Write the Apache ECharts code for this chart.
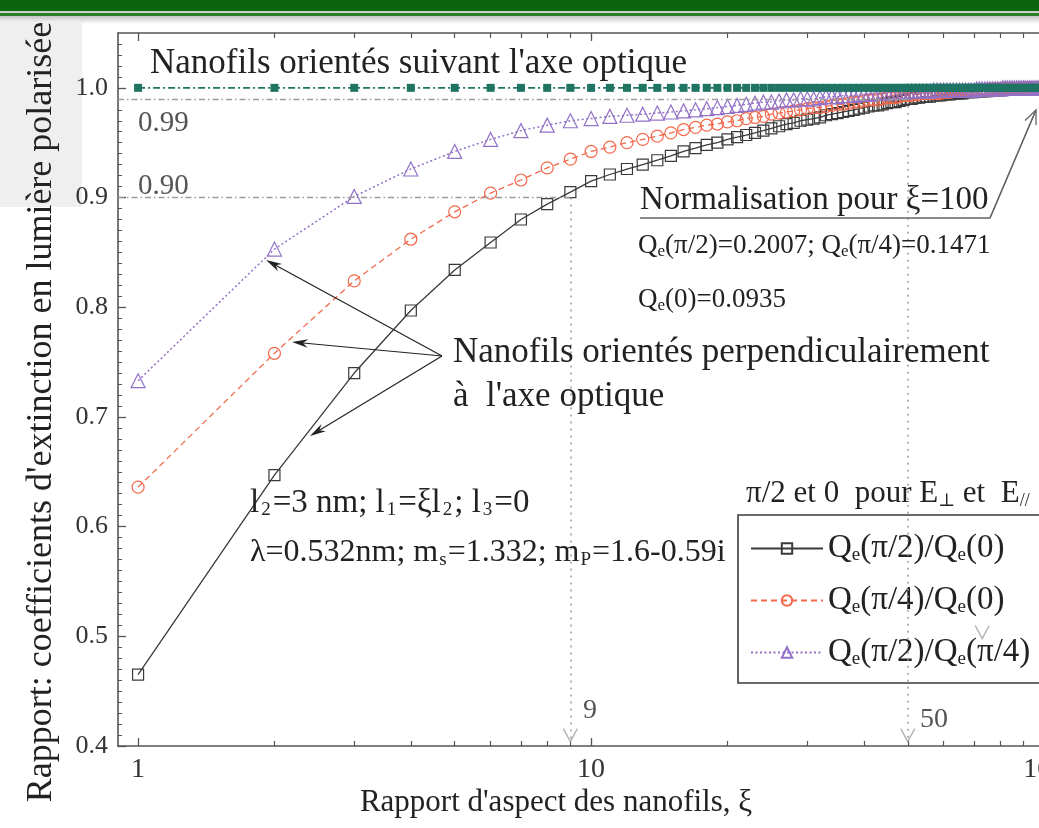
<!DOCTYPE html>
<html>
<head>
<meta charset="utf-8">
<script src="https://cdn.jsdelivr.net/npm/echarts@6/dist/echarts.min.js"></script>
<style>
  html, body { margin: 0; padding: 0; background: #fff; }
  #chart { width: 1039px; height: 828px; }
</style>
</head>
<body>
<div id="chart"></div>
<script>
// Aspect ratio of the nanowires (xi)
const xi = [
  1, 2, 3, 4, 5, 6, 7, 8, 9, 10,
  11, 12, 13, 14, 15, 16, 17, 18, 19, 20,
  21, 22, 23, 24, 25, 26, 27, 28, 29, 30,
  31, 32, 33, 34, 35, 36, 37, 38, 39, 40,
  41, 42, 43, 44, 45, 46, 47, 48, 49, 50,
  51, 52, 53, 54, 55, 56, 57, 58, 59, 60,
  61, 62, 63, 64, 65, 66, 67, 68, 69, 70,
  71, 72, 73, 74, 75, 76, 77, 78, 79, 80,
  81, 82, 83, 84, 85, 86, 87, 88, 89, 90,
  91, 92, 93, 94, 95, 96, 97, 98, 99, 100
];

// Qe(pi/2)/Qe(0)
const ratioPerp0 = [
  0.465, 0.647, 0.740, 0.797, 0.834, 0.859, 0.880, 0.894, 0.905, 0.915,
  0.921, 0.926, 0.930, 0.934, 0.938, 0.942, 0.945, 0.948, 0.950, 0.953,
  0.955, 0.957, 0.959, 0.961, 0.963, 0.965, 0.967, 0.968, 0.970, 0.971,
  0.972, 0.973, 0.975, 0.976, 0.977, 0.978, 0.979, 0.980, 0.981, 0.982,
  0.983, 0.984, 0.984, 0.985, 0.986, 0.987, 0.987, 0.988, 0.989, 0.990,
  0.990, 0.991, 0.991, 0.992, 0.992, 0.992, 0.993, 0.993, 0.993, 0.994,
  0.994, 0.994, 0.995, 0.995, 0.995, 0.995, 0.996, 0.996, 0.996, 0.996,
  0.997, 0.997, 0.997, 0.997, 0.997, 0.998, 0.998, 0.998, 0.998, 0.998,
  0.998, 0.999, 0.999, 0.999, 0.999, 0.999, 0.999, 0.999, 0.999, 1.000,
  1.000, 1.000, 1.000, 1.000, 1.000, 1.000, 1.000, 1.000, 1.000, 1.000
];

// Qe(pi/4)/Qe(0)
const ratioDiag0 = [
  0.636, 0.758, 0.824, 0.862, 0.887, 0.904, 0.916, 0.927, 0.935, 0.942,
  0.946, 0.950, 0.953, 0.956, 0.959, 0.962, 0.964, 0.966, 0.967, 0.969,
  0.970, 0.972, 0.973, 0.974, 0.976, 0.977, 0.978, 0.979, 0.980, 0.981,
  0.982, 0.982, 0.983, 0.984, 0.985, 0.985, 0.986, 0.987, 0.987, 0.988,
  0.989, 0.989, 0.989, 0.990, 0.991, 0.991, 0.991, 0.992, 0.993, 0.993,
  0.993, 0.994, 0.994, 0.995, 0.995, 0.995, 0.995, 0.995, 0.995, 0.996,
  0.996, 0.996, 0.997, 0.997, 0.997, 0.997, 0.997, 0.997, 0.997, 0.997,
  0.998, 0.998, 0.998, 0.998, 0.998, 0.999, 0.999, 0.999, 0.999, 0.999,
  0.999, 0.999, 0.999, 0.999, 0.999, 0.999, 0.999, 0.999, 0.999, 1.000,
  1.000, 1.000, 1.000, 1.000, 1.000, 1.000, 1.000, 1.000, 1.000, 1.000
];

// Qe(pi/2)/Qe(pi/4)
const ratioPerpDiag = [
  0.733, 0.853, 0.901, 0.926, 0.942, 0.953, 0.961, 0.966, 0.970, 0.972,
  0.974, 0.975, 0.976, 0.977, 0.978, 0.979, 0.980, 0.981, 0.982, 0.983,
  0.984, 0.985, 0.986, 0.987, 0.987, 0.988, 0.989, 0.989, 0.990, 0.990,
  0.990, 0.991, 0.992, 0.992, 0.992, 0.993, 0.993, 0.993, 0.994, 0.994,
  0.994, 0.995, 0.995, 0.995, 0.995, 0.996, 0.996, 0.996, 0.996, 0.997,
  0.997, 0.997, 0.997, 0.997, 0.997, 0.997, 0.998, 0.998, 0.998, 0.998,
  0.998, 0.998, 0.998, 0.998, 0.998, 0.998, 0.998, 0.998, 0.998, 0.998,
  0.999, 0.999, 0.999, 0.999, 0.999, 0.999, 0.999, 0.999, 0.999, 0.999,
  1.000, 1.000, 1.000, 1.000, 1.000, 1.000, 1.000, 1.000, 1.000, 1.000,
  1.000, 1.000, 1.000, 1.000, 1.000, 1.000, 1.000, 1.000, 1.000, 1.000
];

// Wires aligned with the optical axis
const ratioParallel = [
  1, 1, 1, 1, 1, 1, 1, 1, 1, 1,
  1, 1, 1, 1, 1, 1, 1, 1, 1, 1,
  1, 1, 1, 1, 1, 1, 1, 1, 1, 1,
  1, 1, 1, 1, 1, 1, 1, 1, 1, 1,
  1, 1, 1, 1, 1, 1, 1, 1, 1, 1,
  1, 1, 1, 1, 1, 1, 1, 1, 1, 1,
  1, 1, 1, 1, 1, 1, 1, 1, 1, 1,
  1, 1, 1, 1, 1, 1, 1, 1, 1, 1,
  1, 1, 1, 1, 1, 1, 1, 1, 1, 1,
  1, 1, 1, 1, 1, 1, 1, 1, 1, 1
];

const seriesNames = ['Qe(π/2)/Qe(0)', 'Qe(π/4)/Qe(0)', 'Qe(π/2)/Qe(π/4)'];
const xLabelTicks = [1, 10, 100];
const xMinorTicks = [2, 3, 4, 5, 6, 7, 8, 9, 20, 30, 40, 50, 60, 70, 80, 90];
const yLabelTicks = [0.4, 0.5, 0.6, 0.7, 0.8, 0.9, 1.0];

// y minor ticks every 0.01
const yMinorTicks = [];
for (let k = 41; k <= 104; k++) { if (k % 10 !== 0) yMinorTicks.push(k / 100); }

const SERIF = '"Liberation Serif", "DejaVu Serif", serif';
const INK = '#222';
const AXIS = '#555';
const GUIDE = '#9c9c9c';
const COL = { black: '#3a3a3a', orange: '#f3694b', purple: '#9271c6', teal: '#1f7464' };

const X_MIN = 0.903, X_MAX = 108.4;

const pairs = v => xi.map((x, i) => [x, v[i]]);

function richSet(size, subSize, drop, gap) {
  return {
    n: { fontFamily: SERIF, fontSize: size, color: INK },
    s: { fontFamily: SERIF, fontSize: subSize, color: INK, padding: [drop * 2, gap || 0, 0, gap || 0] }
  };
}

function qLabel(name) {
  // "Qe(...)" -> Q with subscript e
  return name.split('Qe').map((part, i) => (i === 0 ? (part ? '{n|' + part + '}' : '') : '{n|Q}{s|e}{n|' + part + '}')).join('');
}

function richText(x, y, str, rich) {
  return { type: 'text', x: x, y: y, z: 100,
    style: { text: str, rich: rich, fontFamily: SERIF, fill: INK, verticalAlign: 'middle', align: 'left' } };
}

function plainText(x, y, str, size, color, extra) {
  return Object.assign({ type: 'text', x: x, y: y, z: 100,
    style: { text: str, font: size + 'px ' + SERIF, fill: color || INK, verticalAlign: 'middle', align: 'left' } }, extra || {});
}

function arrowFilled(x1, y1, x2, y2) {
  const a = Math.atan2(y2 - y1, x2 - x1);
  const len = 16, half = 4.2, notch = 11;
  const c = Math.cos(a), s = Math.sin(a);
  const bx = x2 - len * c, by = y2 - len * s;
  const nx = x2 - notch * c, ny = y2 - notch * s;
  return [
    { type: 'line', z: 100, shape: { x1: x1, y1: y1, x2: nx, y2: ny }, style: { stroke: INK, lineWidth: 1.2 } },
    { type: 'polygon', z: 100, shape: { points: [[x2, y2], [bx - s * half, by + c * half], [nx, ny], [bx + s * half, by - c * half]] }, style: { fill: INK } }
  ];
}

function arrowOpen(x1, y1, x2, y2, color) {
  const a = Math.atan2(y2 - y1, x2 - x1);
  const len = 14, half = 6;
  const c = Math.cos(a), s = Math.sin(a);
  const bx = x2 - len * c, by = y2 - len * s;
  return [
    { type: 'line', z: 100, shape: { x1: x1, y1: y1, x2: x2, y2: y2 }, style: { stroke: color, lineWidth: 1.3 } },
    { type: 'polyline', z: 100, shape: { points: [[bx - s * half, by + c * half], [x2, y2], [bx + s * half, by - c * half]] }, style: { stroke: color, fill: null, lineWidth: 1.3 } }
  ];
}

const mid = richSet(33, 19, 7, 2);
const midTight = richSet(32, 19, 7, 1);
const corner = richSet(31, 18, 7, 0);
const small = richSet(27, 17, 6, 0);

const graphics = [
  // page header band
  { type: 'rect', z: -1, shape: { x: 0, y: 0, width: 1039, height: 11 }, style: { fill: '#0b650e' } },
  { type: 'rect', z: -1, shape: { x: 0, y: 11, width: 1039, height: 2 }, style: { fill: '#c9d6c9' } },
  { type: 'rect', z: -1, shape: { x: 0, y: 13, width: 1039, height: 3 }, style: { fill: '#2b7d2b' } },
  { type: 'rect', z: -1, shape: { x: 0, y: 16, width: 1039, height: 8 },
    style: { fill: new echarts.graphic.LinearGradient(0, 0, 0, 1, [{ offset: 0, color: '#c4c4c4' }, { offset: 1, color: '#ffffff' }]) } },
  { type: 'rect', z: -1, shape: { x: 0, y: 22, width: 82, height: 185 }, style: { fill: '#efefef' } },

  // axis titles
  plainText(42, 412, '', 36, INK,
    { rotation: Math.PI / 2, style: { text: 'Rapport: coefficients d\'extinction en lumière polarisée', font: '36px ' + SERIF, fill: INK, verticalAlign: 'middle', align: 'center' } }),
  plainText(556, 803, '', 31, INK,
    { style: { text: 'Rapport d\'aspect des nanofils, ξ', font: '31px ' + SERIF, fill: INK, verticalAlign: 'middle', align: 'center' } }),

  plainText(150, 64, 'Nanofils orientés suivant l\'axe optique', 35),
  plainText(138, 123, '0.99', 29, '#555'),
  plainText(138, 186, '0.90', 29, '#555'),
  plainText(583, 711, '9', 28, '#555'),
  plainText(920, 720, '50', 28, '#555'),

  plainText(640, 200, 'Normalisation pour ξ=100', 33),
  { type: 'polyline', z: 100, shape: { points: [[640, 218], [990, 218], [1036, 110]] }, style: { stroke: '#666', fill: null, lineWidth: 1.3 } },
  ...arrowOpen(990, 218, 1036, 110, '#666'),
  richText(638, 246, '{n|Q}{s|e}{n|(π/2)=0.2007; Q}{s|e}{n|(π/4)=0.1471}', small),
  richText(638, 300, '{n|Q}{s|e}{n|(0)=0.0935}', small),

  plainText(453, 353, 'Nanofils orientés perpendiculairement', 35),
  plainText(453, 397, 'à  l\'axe optique', 35),
  ...arrowFilled(442, 356, 266, 260),
  ...arrowFilled(442, 356, 292, 342),
  ...arrowFilled(442, 356, 310, 436),

  richText(250, 503, '{n|l}{s|2}{n|=3 nm; l}{s|1}{n|=ξl}{s|2}{n|; l}{s|3}{n|=0}', mid),
  richText(250, 553, '{n|λ=0.532nm; m}{s|s}{n|=1.332; m}{s|P}{n|=1.6-0.59i}', midTight),
  richText(746, 494, '{n|π/2 et 0  pour E}{s|⊥}{n| et  E}{s|//}', corner)
];

const chart = echarts.init(document.getElementById('chart'));

const option = {
  backgroundColor: '#fff',
  animation: false,
  grid: { left: 118, right: -21, top: 33, bottom: 82, containLabel: false, outerBoundsMode: 'none' },
  xAxis: [
    {
      type: 'log', min: X_MIN, max: X_MAX, position: 'bottom',
      axisLine: { show: true, lineStyle: { color: AXIS, width: 1.6 } },
      axisTick: { show: true, inside: true, length: 8, customValues: xLabelTicks, lineStyle: { color: AXIS, width: 1.3 } },
      axisLabel: { show: true, customValues: xLabelTicks, formatter: v => String(Math.round(v)), fontFamily: SERIF, fontSize: 28, color: '#333', margin: 10 },
      splitLine: { show: false }, minorTick: { show: false }
    },
    {
      type: 'log', min: X_MIN, max: X_MAX, position: 'bottom',
      axisLine: { show: false },
      axisTick: { show: true, inside: true, length: 5, customValues: xMinorTicks, lineStyle: { color: AXIS, width: 1.2 } },
      axisLabel: { show: false }, splitLine: { show: false }
    },
    {
      type: 'log', min: X_MIN, max: X_MAX, position: 'top',
      axisLine: { show: true, lineStyle: { color: AXIS, width: 1.6 } },
      axisTick: { show: true, inside: true, length: 8, customValues: xLabelTicks, lineStyle: { color: AXIS, width: 1.3 } },
      axisLabel: { show: false }, splitLine: { show: false }
    },
    {
      type: 'log', min: X_MIN, max: X_MAX, position: 'top',
      axisLine: { show: false },
      axisTick: { show: true, inside: true, length: 5, customValues: xMinorTicks, lineStyle: { color: AXIS, width: 1.2 } },
      axisLabel: { show: false }, splitLine: { show: false }
    }
  ],
  yAxis: [
    {
      type: 'value', min: 0.4, max: 1.05, interval: 0.1, position: 'left',
      axisLine: { show: true, lineStyle: { color: AXIS, width: 1.6 } },
      axisTick: { show: true, inside: true, length: 8, customValues: yLabelTicks, lineStyle: { color: AXIS, width: 1.3 } },
      axisLabel: { show: true, customValues: yLabelTicks, formatter: v => v.toFixed(1), fontFamily: SERIF, fontSize: 26, color: '#333', margin: 10 },
      splitLine: { show: false }
    },
    {
      type: 'value', min: 0.4, max: 1.05, position: 'left',
      axisLine: { show: false },
      axisTick: { show: true, inside: true, length: 4, customValues: yMinorTicks, lineStyle: { color: AXIS, width: 1 } },
      axisLabel: { show: false }, splitLine: { show: false }
    }
  ],
  legend: {
    orient: 'vertical', left: 738, top: 515,
    data: seriesNames, selectedMode: false,
    itemWidth: 72, itemHeight: 13, itemGap: 19,
    padding: [17, 60, 14, 12],
    borderColor: '#3a3a3a', borderWidth: 1.6, borderRadius: 0, backgroundColor: '#fff',
    formatter: qLabel,
    textStyle: { fontFamily: SERIF, fontSize: 33, color: INK, rich: richSet(33, 19, 7, 0) }
  },
  graphic: graphics,
  series: [
    {
      name: 'guides', type: 'line', data: [], silent: true, z: 1,
      markLine: {
        silent: true, symbol: ['none', 'none'], label: { show: false }, animation: false,
        data: [
          [{ coord: [X_MIN, 0.99], lineStyle: { type: [6, 3, 1.5, 3], color: GUIDE, width: 1.3 } }, { coord: [50, 0.99] }],
          [{ coord: [50, 0.99], lineStyle: { type: [2, 5], color: GUIDE, width: 1.5 } }, { coord: [50, 0.404] }],
          [{ coord: [X_MIN, 0.90], lineStyle: { type: [6, 3, 1.5, 3], color: GUIDE, width: 1.3 } }, { coord: [9, 0.90] }],
          [{ coord: [9, 0.90], lineStyle: { type: [2, 5], color: GUIDE, width: 1.5 } }, { coord: [9, 0.404] }]
        ]
      }
    },
    {
      name: 'guideArrows', type: 'scatter', z: 6, silent: true,
      data: [[9, 0.404], [50, 0.404], [73, 0.498]],
      symbol: 'path://M0,0 L6,10 L12,0', symbolSize: [14, 13], symbolOffset: [0, -6.5],
      itemStyle: { color: 'rgba(0,0,0,0)', borderColor: GUIDE, borderWidth: 1.3 }
    },
    {
      name: seriesNames[0], type: 'line', data: pairs(ratioPerp0), z: 3,
      symbol: 'rect', symbolSize: 11, showAllSymbol: true,
      lineStyle: { color: COL.black, width: 1.3, type: 'solid' },
      itemStyle: { color: 'rgba(255,255,255,0)', borderColor: COL.black, borderWidth: 1.2 }
    },
    {
      name: seriesNames[1], type: 'line', data: pairs(ratioDiag0), z: 3,
      symbol: 'circle', symbolSize: 12, showAllSymbol: true,
      lineStyle: { color: COL.orange, width: 1.3, type: [6, 4] },
      itemStyle: { color: 'rgba(255,255,255,0)', borderColor: COL.orange, borderWidth: 1.2 }
    },
    {
      name: seriesNames[2], type: 'line', data: pairs(ratioPerpDiag), z: 3,
      symbol: 'triangle', symbolSize: 14, showAllSymbol: true,
      lineStyle: { color: COL.purple, width: 1.5, type: [2, 2.5] },
      itemStyle: { color: 'rgba(255,255,255,0)', borderColor: COL.purple, borderWidth: 1.2 }
    },
    {
      name: 'Nanofils orientés suivant l\'axe optique', type: 'line', data: pairs(ratioParallel), z: 4,
      symbol: 'rect', symbolSize: 8, showAllSymbol: true,
      lineStyle: { color: COL.teal, width: 1.6, type: [7, 3, 2, 3] },
      itemStyle: { color: COL.teal, borderWidth: 0 }
    }
  ]
};

chart.setOption(option);
</script>
</body>
</html>
